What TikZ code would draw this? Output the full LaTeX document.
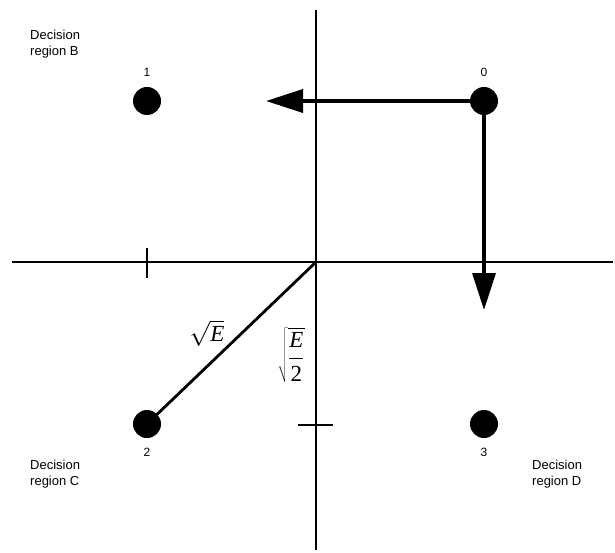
\documentclass[tikz,border=0pt]{standalone}
\usepackage{fontspec}
\setmainfont{Liberation Sans}
\newfontfamily\serifE{Liberation Serif}
\usetikzlibrary{arrows.meta}
\begin{document}
\begin{tikzpicture}[x=1pt,y=-1pt,
  axis/.style={line width=1.7pt},
  dot/.style={circle,fill=black,inner sep=0pt,minimum size=28pt},
  num/.style={font=\fontsize{12}{12}\selectfont,inner sep=0pt},
  region/.style={font=\fontsize{13}{16}\selectfont,align=left,inner sep=0pt,anchor=north west},
  vec/.style={line width=3.5pt,-{Triangle[length=37pt,width=23pt]}},
  tick/.style={line width=2.5pt},
  mathlbl/.style={font=\fontsize{23}{23}\selectfont,inner sep=0pt}]
\useasboundingbox (0,0) rectangle (615,553);
% axes
\coordinate (vt) at (316,10); \coordinate (vb) at (316,550);
\coordinate (hl) at (12,262); \coordinate (hr) at (613,262);
\coordinate (o) at (316,262);
\draw[axis] (vt) -- (vb);
\draw[axis] (hl) -- (hr);
% ticks
\coordinate (t1a) at (147,248); \coordinate (t1b) at (147,278);
\coordinate (t2a) at (298,425); \coordinate (t2b) at (333,425);
\draw[tick] (t1a) -- (t1b);
\draw[tick] (t2a) -- (t2b);
% dots
\node[dot] (d1) at (147,101) {};
\node[dot] (d0) at (484,101) {};
\node[dot] (d2) at (147,424) {};
\node[dot] (d3) at (484,424) {};
\node[num] (n1) at (147,72) {1};
\node[num] (n0) at (484,72) {0};
\node[num] (n2) at (147,452) {2};
\node[num] (n3) at (484,452) {3};
% arrows
\coordinate (a1) at (266,101);
\coordinate (a2) at (484,310);
\draw[vec] (d0.center) -- (a1);
\draw[vec] (d0.center) -- (a2);
% line to 2
\draw[line width=2.8pt] (o) -- (d2.center);
% labels
\node[mathlbl] (e1) at (207,333) {$\sqrt{\mbox{\serifE\itshape E}}$};
\node[mathlbl] (e2) at (291,355) {$\displaystyle\sqrt{\frac{\mbox{\serifE\itshape E}}{\mbox{\serifE 2}}}$};
\node[region] (rb) at (30,30) {Decision\\region B};
\node[region] (rc) at (30,460) {Decision\\region C};
\node[region] (rd) at (532,460) {Decision\\region D};
\end{tikzpicture}
\end{document}
